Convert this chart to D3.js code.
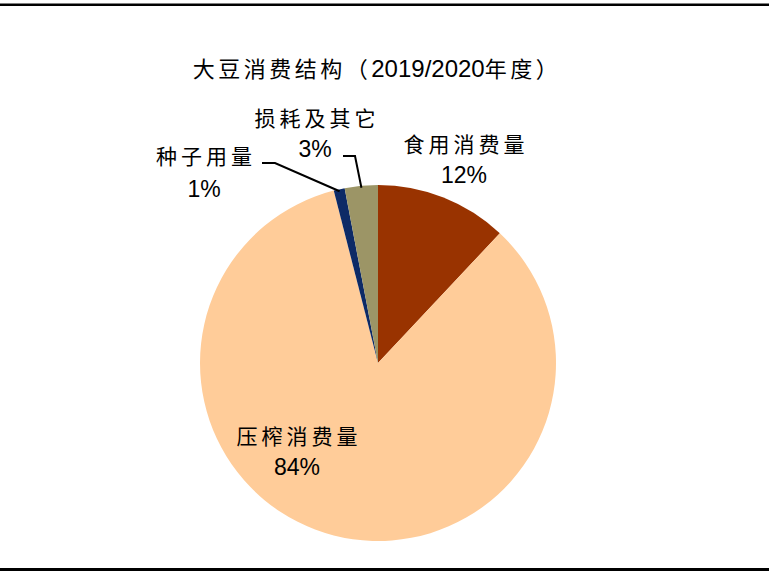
<!DOCTYPE html>
<html>
<head>
<meta charset="utf-8">
<script src="https://cdn.jsdelivr.net/npm/d3@7/dist/d3.min.js"></script>
<style>
  body { margin: 0; background: #fff; }
  svg { display: block; }
</style>
</head>
<body>
<div id="chart"></div>
<script>
// data
var categories = ['食用消费量', '压榨消费量', '种子用量', '损耗及其它']
var shares = [12, 84, 1, 3]
var pctLabels = ['12%', '84%', '1%', '3%']
var colors = ['#993300', '#ffcc99', '#0d2a66', '#9c9566']

var width = 769
var height = 571

var svg = d3
  .select('#chart')
  .append('svg')
  .attr('width', width)
  .attr('height', height)

// frame lines top and bottom
svg.append('rect').attr('x', 0).attr('y', 3.5).attr('width', width).attr('height', 2.5).attr('fill', '#000')
svg.append('rect').attr('x', 0).attr('y', 568).attr('width', width).attr('height', 3).attr('fill', '#000')

var cjk = '"Noto Sans CJK SC", "Noto Sans", sans-serif'
var latin = '"Liberation Sans", Arial, sans-serif'

// title
var title = svg
  .append('text')
  .attr('x', 377)
  .attr('y', 77)
  .attr('text-anchor', 'middle')
  .attr('fill', '#000')
title.append('tspan').attr('font-family', cjk).attr('font-size', 22).attr('letter-spacing', 3.5).text('大豆消费结构（')
title.append('tspan').attr('font-family', latin).attr('font-size', 24).text('2019/2020')
title.append('tspan').attr('font-family', cjk).attr('font-size', 22).attr('letter-spacing', 3.5).text('年度）')

var cx = 378
var cy = 363
var radius = 178

var pie = d3
  .pie()
  .sort(null)
  .value(d => d)

var arcs = pie(shares)

var arc = d3
  .arc()
  .innerRadius(0)
  .outerRadius(radius)

var edgeArc = d3
  .arc()
  .innerRadius(radius - 2)
  .outerRadius(radius - 2)

var g = svg.append('g').attr('transform', 'translate(' + cx + ',' + cy + ')')

g.selectAll('.slice')
  .data(arcs)
  .enter()
  .append('path')
  .attr('class', 'slice')
  .attr('d', arc)
  .attr('fill', (d, i) => colors[i])

// label layout (relative to pie centre): name baseline, pct baseline
var labelPos = [
  { x: 86, y: -211, py: -180 },
  { x: -81, y: 81, py: 112 },
  { x: -174, y: -199, py: -166 },
  { x: -63, y: -237, py: -206 }
]

// leader elbows for the small slices
var leaders = { 2: [[-116, -200], [-103, -200]], 3: [[-35, -207], [-23, -207]] }

Object.keys(leaders).forEach(k => {
  var pts = leaders[k].slice()
  var c = edgeArc.centroid(arcs[k])
  pts.push(c)
  g.append('path')
    .attr('d', d3.line()(pts))
    .attr('fill', 'none')
    .attr('stroke', '#000')
    .attr('stroke-width', 2)
})

labelPos.forEach((p, i) => {
  g.append('text')
    .attr('x', p.x + 2)
    .attr('y', p.y)
    .attr('text-anchor', 'middle')
    .attr('font-family', cjk)
    .attr('font-size', 21)
    .attr('letter-spacing', 4)
    .attr('fill', '#000')
    .text(categories[i])

  g.append('text')
    .attr('x', p.x)
    .attr('y', p.py)
    .attr('text-anchor', 'middle')
    .attr('font-family', latin)
    .attr('font-size', 23)
    .attr('fill', '#000')
    .text(pctLabels[i])
})
</script>
</body>
</html>
